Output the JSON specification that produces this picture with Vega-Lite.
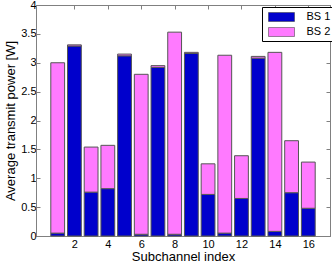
{
  "$schema": "https://vega.github.io/schema/vega-lite/v6.json",
  "width": 294,
  "height": 231,
  "autosize": "none",
  "padding": {"left": 36, "top": 5, "right": 2, "bottom": 28},
  "background": "white",
  "config": {
    "font": "Liberation Sans",
    "view": {"stroke": "#808080", "strokeWidth": 1},
    "axis": {
      "labelFont": "Liberation Sans",
      "titleFont": "Liberation Sans",
      "labelFontSize": 11,
      "titleFontSize": 13,
      "titleFontWeight": "normal",
      "labelColor": "black",
      "titleColor": "black",
      "domainColor": "#808080",
      "tickColor": "#808080",
      "tickSize": -4,
      "grid": false
    },
    "legend": {
      "labelFont": "Liberation Sans",
      "labelFontSize": 11,
      "labelColor": "black"
    }
  },
  "data": {
    "values": [
      {"idx": 1, "bs": "BS 1", "power": 0.05}, {"idx": 1, "bs": "BS 2", "power": 2.95},
      {"idx": 2, "bs": "BS 1", "power": 3.29}, {"idx": 2, "bs": "BS 2", "power": 0.02},
      {"idx": 3, "bs": "BS 1", "power": 0.76}, {"idx": 3, "bs": "BS 2", "power": 0.78},
      {"idx": 4, "bs": "BS 1", "power": 0.82}, {"idx": 4, "bs": "BS 2", "power": 0.75},
      {"idx": 5, "bs": "BS 1", "power": 3.12}, {"idx": 5, "bs": "BS 2", "power": 0.03},
      {"idx": 6, "bs": "BS 1", "power": 0.03}, {"idx": 6, "bs": "BS 2", "power": 2.77},
      {"idx": 7, "bs": "BS 1", "power": 2.92}, {"idx": 7, "bs": "BS 2", "power": 0.03},
      {"idx": 8, "bs": "BS 1", "power": 0.03}, {"idx": 8, "bs": "BS 2", "power": 3.5},
      {"idx": 9, "bs": "BS 1", "power": 3.16}, {"idx": 9, "bs": "BS 2", "power": 0.02},
      {"idx": 10, "bs": "BS 1", "power": 0.72}, {"idx": 10, "bs": "BS 2", "power": 0.53},
      {"idx": 11, "bs": "BS 1", "power": 0.05}, {"idx": 11, "bs": "BS 2", "power": 3.08},
      {"idx": 12, "bs": "BS 1", "power": 0.65}, {"idx": 12, "bs": "BS 2", "power": 0.74},
      {"idx": 13, "bs": "BS 1", "power": 3.08}, {"idx": 13, "bs": "BS 2", "power": 0.03},
      {"idx": 14, "bs": "BS 1", "power": 0.08}, {"idx": 14, "bs": "BS 2", "power": 3.1},
      {"idx": 15, "bs": "BS 1", "power": 0.75}, {"idx": 15, "bs": "BS 2", "power": 0.9},
      {"idx": 16, "bs": "BS 1", "power": 0.48}, {"idx": 16, "bs": "BS 2", "power": 0.8}
    ]
  },
  "layer": [
    {
      "mark": {"type": "bar", "width": 13.8, "stroke": "#555555", "strokeWidth": 1},
      "encoding": {
        "x": {
          "field": "idx", "type": "quantitative",
          "scale": {"domain": [0, 17], "nice": false, "zero": false},
          "axis": {"values": [2, 4, 6, 8, 10, 12, 14, 16], "title": "Subchannel index", "titlePadding": 1, "labelPadding": 6}
        },
        "y": {
          "field": "power", "type": "quantitative", "stack": "zero",
          "scale": {"domain": [0, 4], "nice": false},
          "axis": {"values": [0, 0.5, 1, 1.5, 2, 2.5, 3, 3.5, 4], "format": "~g", "title": "Average transmit power [W]", "titlePadding": 3, "labelPadding": 4}
        },
        "color": {
          "field": "bs", "type": "nominal",
          "scale": {"domain": ["BS 1", "BS 2"], "range": ["#0000CC", "#FF7AFF"]},
          "legend": {
            "title": null,
            "orient": "none",
            "legendX": 226,
            "legendY": 2,
            "strokeColor": "black",
            "fillColor": "white",
            "padding": 3,
            "symbolType": "M-2,-0.69H2V0.69H-2Z",
            "symbolSize": 169,
            "symbolOffset": 9.5,
            "symbolStrokeColor": "#333333",
            "symbolStrokeWidth": 0.5,
            "symbolOpacity": 1,
            "rowPadding": 2,
            "labelOffset": 18
          }
        },
        "order": {"field": "bs", "type": "nominal", "sort": "ascending"}
      }
    },
    {
      "mark": {"type": "bar", "opacity": 0},
      "encoding": {
        "x": {
          "field": "idx", "type": "quantitative",
          "axis": {"orient": "top", "values": [2, 4, 6, 8, 10, 12, 14, 16], "labels": false, "title": null}
        },
        "y": {
          "field": "power", "type": "quantitative", "stack": "zero",
          "axis": {"orient": "right", "values": [0, 0.5, 1, 1.5, 2, 2.5, 3, 3.5, 4], "labels": false, "title": null}
        }
      }
    }
  ],
  "resolve": {"axis": {"x": "independent", "y": "independent"}}
}
